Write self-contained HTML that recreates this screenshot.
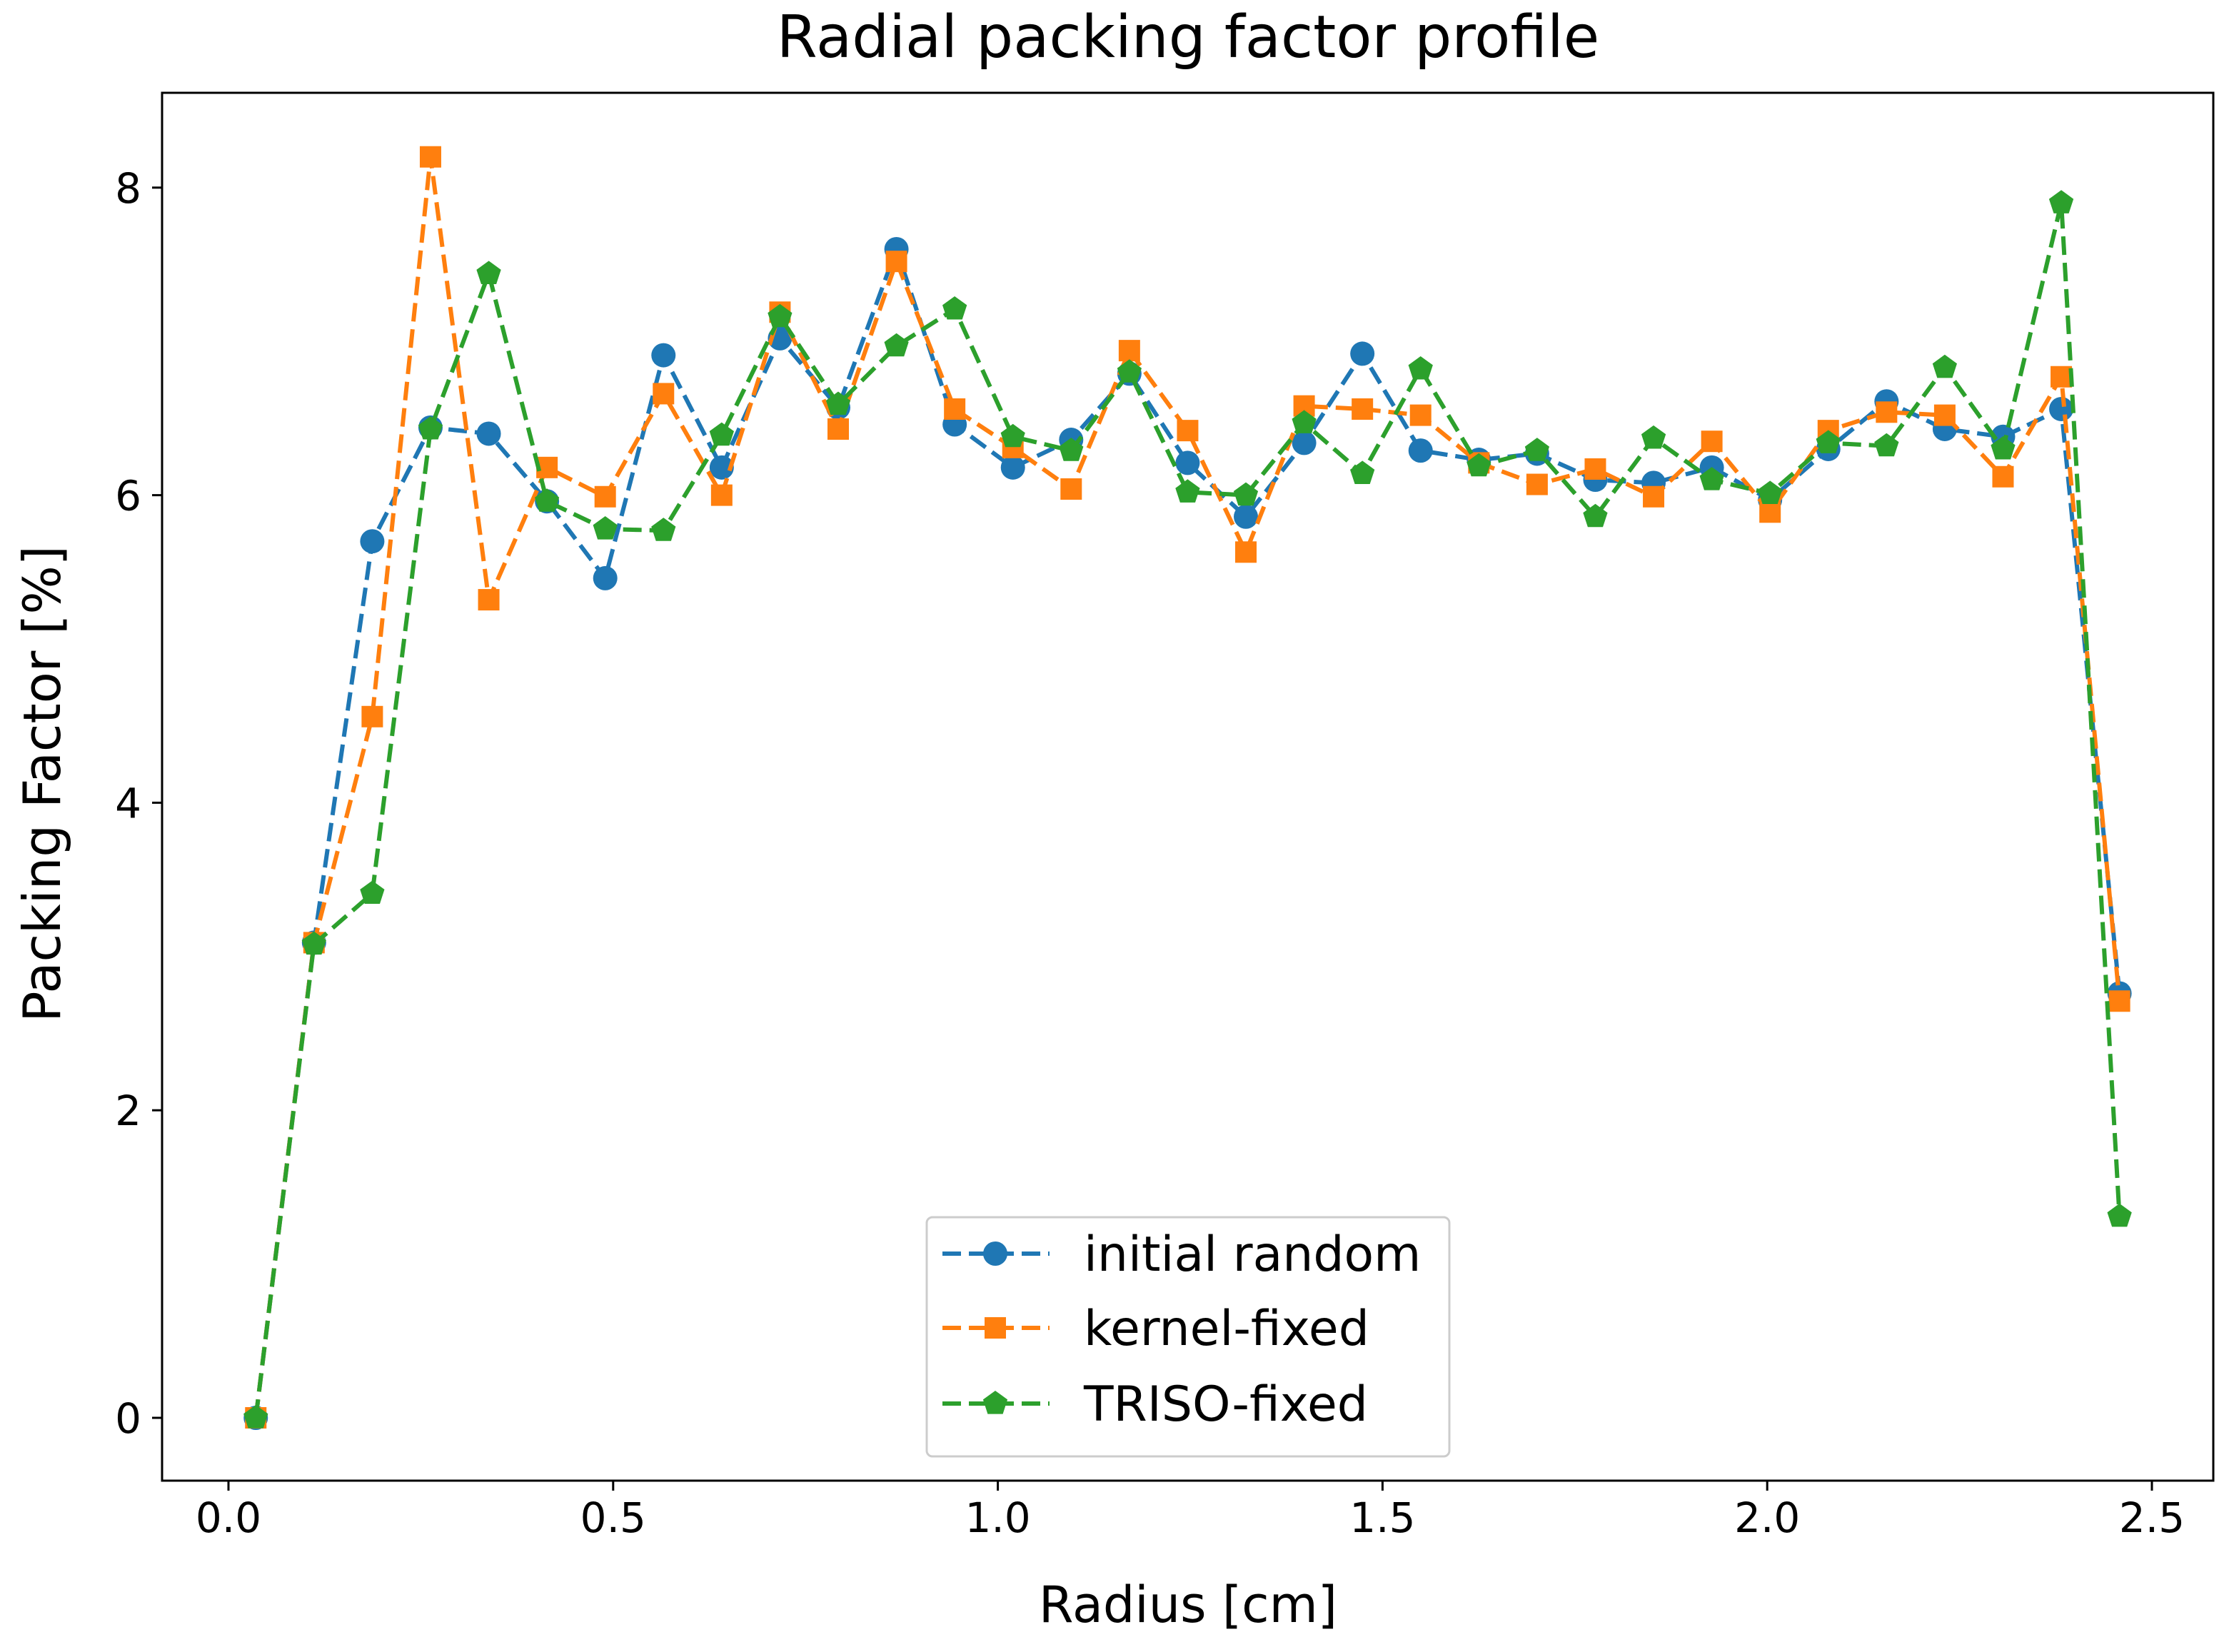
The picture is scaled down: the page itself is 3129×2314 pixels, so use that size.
<!DOCTYPE html>
<html><head><meta charset="utf-8"><style>
html,body{margin:0;padding:0;background:#fff}
svg text{font-family:"DejaVu Sans","Liberation Sans",sans-serif;fill:#000}
</style></head><body>
<svg id="chart" width="3129" height="2309" viewBox="0 0 3129 2309" xmlns="http://www.w3.org/2000/svg">
<rect width="3129" height="2309" fill="#fff"/>
<text x="1664" y="80" font-size="82" text-anchor="middle">Radial packing factor profile</text>
<g id="plot"></g>
<rect x="227" y="130" width="2873" height="1944" fill="none" stroke="#000" stroke-width="3"/>
<text x="1664" y="2272" font-size="70" text-anchor="middle">Radius [cm]</text>
<text transform="translate(84,1098) rotate(-90)" font-size="72" text-anchor="middle">Packing Factor [%]</text>
<g id="legend">
<rect x="1298" y="1705" width="732" height="335" rx="8" fill="#fff" stroke="#ccc" stroke-width="3"/>
</g>
</svg>
<script>
const seriesNames = ["initial random","kernel-fixed","TRISO-fixed"];
const colors = ["#1f77b4","#ff7f0e","#2ca02c"];
const xStart = 0.0355, xStep = 0.0757, nPts = 33;
const initialRandom = [0,3.09,5.70,6.44,6.40,5.96,5.46,6.91,6.18,7.02,6.57,7.60,6.46,6.18,6.36,6.79,6.21,5.86,6.34,6.92,6.29,6.23,6.27,6.10,6.08,6.18,5.97,6.30,6.61,6.43,6.38,6.56,2.76];
const kernelFixed = [0,3.09,4.56,8.20,5.32,6.18,5.99,6.66,6.00,7.19,6.43,7.52,6.56,6.31,6.04,6.94,6.42,5.63,6.58,6.56,6.52,6.21,6.07,6.17,5.99,6.35,5.89,6.42,6.54,6.52,6.12,6.77,2.71];
const trisoFixed = [0,3.08,3.41,6.43,7.44,5.96,5.78,5.77,6.39,7.16,6.59,6.97,7.21,6.38,6.29,6.80,6.02,6.00,6.47,6.14,6.82,6.19,6.29,5.86,6.37,6.10,6.01,6.34,6.32,6.83,6.30,7.90,1.31];
const xTicks = [0.0,0.5,1.0,1.5,2.0,2.5];
const xTickLabels = ["0.0","0.5","1.0","1.5","2.0","2.5"];
const yTicks = [0,2,4,6,8];
const yTickLabels = ["0","2","4","6","8"];

const NS="http://www.w3.org/2000/svg";
const X = v => 320 + v*1077.6;
const Y = v => 1986 - v*215.4;
const plot=document.getElementById('plot');
function mk(tag,attrs,parent){const e=document.createElementNS(NS,tag);for(const k in attrs)e.setAttribute(k,attrs[k]);(parent||plot).appendChild(e);return e;}

xTicks.forEach((t,i)=>{
  const l=mk('line',{x1:X(t),x2:X(t),y1:2074,y2:2088,stroke:'#000','stroke-width':3});
  
  
  const tx=mk('text',{x:X(t),y:2146,'font-size':58,'text-anchor':'middle'});
  tx.textContent=xTickLabels[i];
  
  
});
yTicks.forEach((t,i)=>{
  const l=mk('line',{x1:213,x2:227,y1:Y(t),y2:Y(t),stroke:'#000','stroke-width':3});
  
  
  const tx=mk('text',{x:198,y:Y(t)+21,'font-size':58,'text-anchor':'end'});
  tx.textContent=yTickLabels[i];
  
  
});

function marker(kind,cx,cy,color,parent){
  let m;
  if(kind===0) m=mk('circle',{cx:cx,cy:cy,r:17,fill:color},parent);
  else if(kind===1) m=mk('rect',{x:cx-15,y:cy-15,width:30,height:30,fill:color},parent);
  else{
    const pts=[];for(let k=0;k<5;k++){const a=-Math.PI/2+k*2*Math.PI/5;pts.push((cx+18*Math.cos(a)).toFixed(1)+','+(cy+18*Math.sin(a)).toFixed(1));}
    m=mk('polygon',{points:pts.join(' '),fill:color},parent);
  }
  return m;
}
const allSeries=[initialRandom,kernelFixed,trisoFixed];
allSeries.forEach((vals,s)=>{
  const g=mk('g',{});
  
  
  const d=vals.map((v,i)=>(i?'L':'M')+X(xStart+i*xStep).toFixed(1)+','+Y(v).toFixed(1)).join(' ');
  const p=mk('path',{d:d,fill:'none',stroke:colors[s],'stroke-width':6,'stroke-dasharray':'26,11'},g);
  
  
  vals.forEach((v,i)=>{
    const m=marker(s,X(xStart+i*xStep),Y(v),colors[s],g);
    
    
  });
});
const leg=document.getElementById('legend');
[1756,1860,1966].forEach((y,s)=>{
  const g=mk('g',{},leg);
  
  
  mk('line',{x1:1320,x2:1470,y1:y,y2:y,stroke:colors[s],'stroke-width':6,'stroke-dasharray':'26,11'},g);
  marker(s,1394,y,colors[s],g);
  const t=mk('text',{x:1518,y:y+24,'font-size':68},g);
  t.textContent=seriesNames[s];
});
</script>
</body></html>
